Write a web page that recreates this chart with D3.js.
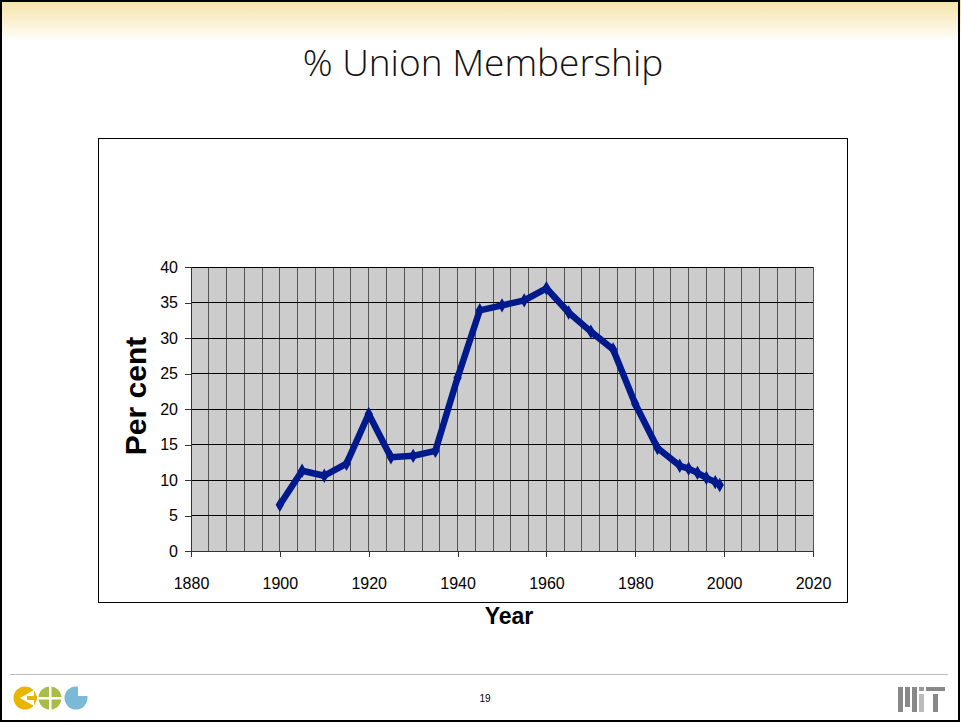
<!DOCTYPE html>
<html><head><meta charset="utf-8">
<script src="https://cdn.jsdelivr.net/npm/d3@7"></script>
<style>html,body{margin:0;padding:0;background:#fff;overflow:hidden}</style>
</head><body>
<script>
const years = [1900,1905,1910,1915,1920,1925,1930,1935,1940,1945,1950,1955,1960,1965,1970,1975,1980,1985,1990,1992,1994,1996,1998,1999];
const percents = [6.5,11.3,10.6,12.3,19.3,13.2,13.4,14.1,24.4,33.9,34.6,35.3,37.0,33.6,30.9,28.4,20.7,14.5,12.0,11.6,11.0,10.3,9.7,9.3];
const xTicks = [1880,1900,1920,1940,1960,1980,2000,2020];
const yTicks = [0,5,10,15,20,25,30,35,40];
const titleText = "% Union Membership";
const xLabel = "Year", yLabel = "Per cent", pageNum = "19";

const W=961,H=723;
const svg=d3.select("body").append("svg").attr("width",W).attr("height",H);
const defs=svg.append("defs");
const g=defs.append("linearGradient").attr("id","hdr").attr("x1",0).attr("y1",0).attr("x2",0).attr("y2",1);
g.append("stop").attr("offset","0%").attr("stop-color","#f5e2a3");
g.append("stop").attr("offset","100%").attr("stop-color","#ffffff");
svg.append("rect").attr("x",0).attr("y",0).attr("width",W).attr("height",42).attr("fill","url(#hdr)");
svg.append("rect").attr("x",1).attr("y",1).attr("width",W-3).attr("height",H-3).attr("fill","none").attr("stroke","#000").attr("stroke-width",2);

svg.append("text").attr("x",483).attr("y",76).attr("text-anchor","middle")
 .attr("font-family","'Open Sans', sans-serif").attr("font-weight",300).attr("font-size",37).attr("fill","#111")
 .text(titleText);

svg.append("rect").attr("x",98.5).attr("y",138.5).attr("width",749).attr("height",464).attr("fill","#fff").attr("stroke","#000").attr("stroke-width",1);

const x=d3.scaleLinear().domain([1880,2020]).range([191,813]);
const y=d3.scaleLinear().domain([0,40]).range([551,267]);

svg.append("rect").attr("x",x(1880)).attr("y",y(40)).attr("width",x(2020)-x(1880)).attr("height",y(0)-y(40)).attr("fill","#cccccc");
const vg=d3.range(1884,2021,4);
svg.append("g").selectAll("line").data(vg).join("line")
 .attr("x1",d=>x(d)).attr("x2",d=>x(d)).attr("y1",y(0)).attr("y2",y(40))
 .attr("stroke","#555").attr("stroke-width",1).attr("shape-rendering","crispEdges");
svg.append("g").selectAll("line").data(yTicks.filter(d=>d>0)).join("line")
 .attr("x1",x(1880)).attr("x2",x(2020)).attr("y1",d=>y(d)).attr("y2",d=>y(d))
 .attr("stroke","#000").attr("stroke-width",1).attr("shape-rendering","crispEdges");

const font="'Liberation Sans', Arial, sans-serif";
const xa=svg.append("g").attr("transform",`translate(0,${y(0)})`)
 .call(d3.axisBottom(x).tickValues(xTicks).tickFormat(d3.format("d")).tickSize(6).tickPadding(21));
const ya=svg.append("g").attr("transform",`translate(${x(1880)},0)`)
 .call(d3.axisLeft(y).tickValues(yTicks).tickSize(6).tickPadding(7));
[xa,ya].forEach(a=>{a.selectAll("path").attr("stroke","#333").attr("shape-rendering","crispEdges");
 a.selectAll("line").attr("stroke","#333").attr("shape-rendering","crispEdges");
 a.selectAll("text").attr("font-family",font).attr("font-size",16).attr("fill","#000");});
xa.select(".domain").attr("d",`M${x(1880)},0H${x(2020)}`);
ya.select(".domain").attr("d",`M0,${y(0)}V${y(40)}`);

svg.append("text").attr("x",509).attr("y",624).attr("text-anchor","middle").attr("font-family",font)
 .attr("font-weight","bold").attr("font-size",23).text(xLabel);
svg.append("text").attr("transform",`translate(146,396) rotate(-90)`).attr("text-anchor","middle").attr("font-family",font)
 .attr("font-weight","bold").attr("font-size",30).text(yLabel);

const data=years.map((d,i)=>({yr:d,v:percents[i]}));
svg.append("path").datum(data).attr("fill","none").attr("stroke","#001a8e").attr("stroke-width",6.5).attr("stroke-linejoin","round")
 .attr("d",d3.line().x(d=>x(d.yr)).y(d=>y(d.v)));
svg.append("g").selectAll("path").data(data).join("path")
 .attr("transform",d=>`translate(${x(d.yr)},${y(d.v)})`)
 .attr("d",d3.symbol(d3.symbolDiamond,60)).attr("fill","#001a8e");

svg.append("line").attr("x1",10).attr("x2",948).attr("y1",674.5).attr("y2",674.5).attr("stroke","#bbb").attr("stroke-width",1);
svg.append("text").attr("x",485).attr("y",702).attr("text-anchor","middle").attr("font-family","'Liberation Sans Narrow', sans-serif").attr("font-size",10).text(pageNum);
const lg=svg.append("g");
lg.append("circle").attr("cx",25).attr("cy",698).attr("r",11.5).attr("fill","#e8b600");
lg.append("path").attr("d","M20,698 L34,690 L34,706 Z").attr("fill","#fff");
lg.append("rect").attr("x",27).attr("y",696).attr("width",10).attr("height",4).attr("fill","#e8b600");
lg.append("circle").attr("cx",50).attr("cy",698).attr("r",11.5).attr("fill","#a9bb4a");
lg.append("rect").attr("x",49).attr("y",685).attr("width",2.5).attr("height",26).attr("fill","#fff");
lg.append("rect").attr("x",37).attr("y",697).attr("width",26).attr("height",2.5).attr("fill","#fff");
lg.append("circle").attr("cx",76).attr("cy",698).attr("r",11.5).attr("fill","#7bb9d6");
lg.append("rect").attr("x",78).attr("y",685).attr("width",11).attr("height",11).attr("fill","#fff");
const mg=svg.append("g").attr("fill","#888");
mg.append("rect").attr("x",898).attr("y",687).attr("width",5).attr("height",25);
mg.append("rect").attr("x",905).attr("y",687).attr("width",5).attr("height",20);
mg.append("rect").attr("x",912).attr("y",687).attr("width",5).attr("height",25);
mg.append("rect").attr("x",919).attr("y",687).attr("width",5).attr("height",4).attr("fill","#999");
mg.append("rect").attr("x",919).attr("y",694).attr("width",5).attr("height",18).attr("fill","#bbb");
mg.append("rect").attr("x",926).attr("y",687).attr("width",19).attr("height",4);
mg.append("rect").attr("x",933).attr("y",694).attr("width",5).attr("height",18);
</script>
</body></html>
